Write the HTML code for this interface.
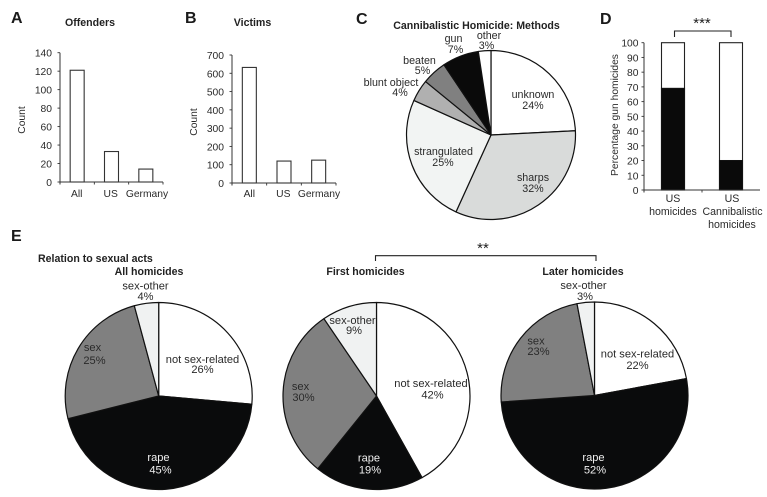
<!DOCTYPE html>
<html lang="en">
<head>
<meta charset="utf-8">
<title>Cannibalistic homicide charts</title>
<style>
html,body{margin:0;padding:0;background:#fff;width:767px;height:497px;overflow:hidden}
svg{display:block;font-family:"Liberation Sans",Arial,sans-serif;fill:#222;font-size:10.5px}
.t{font-size:10.3px;fill:#2a2a2a}
.c{font-size:10.7px;fill:#2a2a2a}
.d{font-size:10.6px;fill:#2a2a2a}
.e{font-size:11.1px;fill:#2a2a2a}
.b{font-weight:bold;font-size:10.6px;fill:#222}
.p{font-weight:bold;font-size:16px;fill:#1a1a1a}
.m{text-anchor:middle}
.w{fill:#f0f0f0}
</style>
</head>
<body>
<svg id="figure" width="767" height="497" viewBox="0 0 767 497" xmlns="http://www.w3.org/2000/svg">
  <g id="pies"></g>
  <g id="bars"></g>

  <text class="p" x="11" y="23">A</text>
  <text class="p" x="185" y="23">B</text>
  <text class="p" x="356" y="24">C</text>
  <text class="p" x="600" y="24">D</text>
  <text class="p" x="11" y="241">E</text>

  <text class="b m" x="90" y="26">Offenders</text>
  <text class="b m" x="252.500" y="26">Victims</text>
  <text class="t m" transform="translate(25,120) rotate(-90)">Count</text>
  <text class="t m" transform="translate(197,122) rotate(-90)">Count</text>

  <text class="b m" x="476.500" y="29">Cannibalistic Homicide: Methods</text>
  <text class="c m" x="533" y="98">unknown</text>
  <text class="c m" x="533" y="109">24%</text>
  <text class="c m" x="533" y="181">sharps</text>
  <text class="c m" x="533" y="192">32%</text>
  <text class="c m" x="443.500" y="155">strangulated</text>
  <text class="c m" x="443" y="166">25%</text>
  <text class="c m" x="391" y="86">blunt object</text>
  <text class="c m" x="400" y="96">4%</text>
  <text class="c m" x="419.500" y="64">beaten</text>
  <text class="c m" x="422.500" y="74">5%</text>
  <text class="c m" x="453.500" y="42">gun</text>
  <text class="c m" x="455.500" y="53">7%</text>
  <text class="c m" x="489" y="39">other</text>
  <text class="c m" x="486.500" y="49">3%</text>

  <text class="t m" transform="translate(618,115) rotate(-90)">Percentage gun homicides</text>
  <text class="d m" x="673" y="202">US</text>
  <text class="d m" x="673" y="215">homicides</text>
  <text class="d m" x="732" y="202">US</text>
  <text class="d m" x="732.500" y="215">Cannibalistic</text>
  <text class="d m" x="732" y="228">homicides</text>
  <text class="m" x="702" y="28" style="font-size:15px;fill:#222">***</text>
  <path d="M674.500 37V31H731V37" fill="none" stroke="#222" stroke-width="1.1"/>

  <text class="b" x="38" y="262">Relation to sexual acts</text>
  <text class="b m" x="149" y="275">All homicides</text>
  <text class="b m" x="365.500" y="275">First homicides</text>
  <text class="b m" x="583" y="275">Later homicides</text>
  <text class="m" x="483" y="253" style="font-size:15px;fill:#222">**</text>
  <path d="M375.500 261V255.700H596V261" fill="none" stroke="#222" stroke-width="1.1"/>

  <g id="pie-labels">
    <text class="e m" x="145.500" y="289.500">sex-other</text>
    <text class="e m" x="145.500" y="300">4%</text>
    <text class="e m" x="202.500" y="363">not  sex-related</text>
    <text class="e m" x="202.500" y="373">26%</text>
    <text class="e m" x="92.500" y="351">sex</text>
    <text class="e m" x="94.500" y="364">25%</text>
    <text class="e m w" x="158.500" y="461">rape</text>
    <text class="e m w" x="160.500" y="473.500">45%</text>

    <text class="e m" x="352.500" y="324">sex-other</text>
    <text class="e m" x="354" y="334">9%</text>
    <text class="e m" x="431" y="387">not sex-related</text>
    <text class="e m" x="432.500" y="398.500">42%</text>
    <text class="e m" x="300.500" y="390">sex</text>
    <text class="e m" x="303.500" y="401">30%</text>
    <text class="e m w" x="369" y="461.500">rape</text>
    <text class="e m w" x="370" y="473.500">19%</text>

    <text class="e m" x="583.500" y="289">sex-other</text>
    <text class="e m" x="585" y="300">3%</text>
    <text class="e m" x="637.500" y="357.500">not sex-related</text>
    <text class="e m" x="637.500" y="369">22%</text>
    <text class="e m" x="536" y="344.500">sex</text>
    <text class="e m" x="538.500" y="355">23%</text>
    <text class="e m w" x="593.500" y="461">rape</text>
    <text class="e m w" x="595" y="473.500">52%</text>
  </g>
</svg>
<script>
var barCategories = ['All', 'US', 'Germany'];
var offendersValues = [121, 33, 14];
var victimsValues = [632, 120, 125];
var offendersTicks = [0, 20, 40, 60, 80, 100, 120, 140];
var victimsTicks = [0, 100, 200, 300, 400, 500, 600, 700];
var gunTicks = [0, 10, 20, 30, 40, 50, 60, 70, 80, 90, 100];
var gunCategories = ['US homicides', 'US Cannibalistic homicides'];
var gunValues = [69, 20];
var methodNames = ['unknown', 'sharps', 'strangulated', 'blunt-object', 'beaten', 'gun', 'other'];
var methodValues = [24.2, 32.6, 24.9, 4.2, 4.7, 7.0, 2.4];
var sexNames = ['not-sex-related', 'rape', 'sex', 'sex-other'];
var allHomicideValues = [26.4, 44.7, 24.7, 4.2];
var firstHomicideValues = [41.9, 18.9, 29.7, 9.5];
var laterHomicideValues = [22.1, 51.8, 23.1, 3.0];

var NS = 'http://www.w3.org/2000/svg';
var barsLayer = document.getElementById('bars');
var piesLayer = document.getElementById('pies');

function make(parent, tag, name) {
  var el = document.createElementNS(NS, tag);
  
  
  parent.appendChild(el);
  return el;
}
function line(parent, name, x1, y1, x2, y2, color, width) {
  var l = make(parent, 'line', name);
  l.setAttribute('x1', x1); l.setAttribute('y1', y1);
  l.setAttribute('x2', x2); l.setAttribute('y2', y2);
  l.setAttribute('stroke', color); l.setAttribute('stroke-width', width);
  return l;
}
function rect(parent, name, x, y, w, h, fill, stroke) {
  var r = make(parent, 'rect', name);
  r.setAttribute('x', x); r.setAttribute('y', y);
  r.setAttribute('width', w); r.setAttribute('height', h);
  r.setAttribute('fill', fill); r.setAttribute('stroke', stroke);
  r.setAttribute('stroke-width', '1.1');
  return r;
}
function label(parent, name, x, y, anchor, str) {
  var t = make(parent, 'text', name);
  t.setAttribute('class', 't');
  t.setAttribute('x', x); t.setAttribute('y', y);
  t.setAttribute('text-anchor', anchor);
  t.textContent = str;
  return t;
}

function countChart(prefix, values, ticks, ax) {
  var g = make(barsLayer, 'g', prefix + '-bar-chart');
  var maxTick = ticks[ticks.length - 1];
  function yScale(v) { return ax.y0 - v / maxTick * (ax.y0 - ax.yTop); }
  var band = (ax.xEnd - ax.x0) / values.length;
  ticks.forEach(function (v) {
    var y = yScale(v);
    line(g, prefix + '-y-tick', ax.x0 - 2.5, y, ax.x0, y, '#333', 0.9);
    label(g, prefix + '-y-tick-label', ax.labelX, y + 4, 'end', String(v));
  });
  values.forEach(function (v, i) {
    var cx = ax.x0 + band * (i + 0.5);
    rect(g, prefix + '-bar-' + barCategories[i].toLowerCase(), cx - 7, yScale(v), 14, ax.y0 - yScale(v), '#fff', '#333');
    label(g, prefix + '-x-label', ax.labelCenters[i], 197, 'middle', barCategories[i]);
    line(g, prefix + '-x-tick', ax.x0 + band * (i + 1), ax.y0, ax.x0 + band * (i + 1), ax.y0 + 2.5, '#333', 0.9);
  });
  line(g, prefix + '-y-axis', ax.x0, ax.yTop, ax.x0, ax.y0 + 2.5, '#333', 1);
  line(g, prefix + '-x-axis', ax.x0, ax.y0, ax.xEnd, ax.y0, '#333', 1);
}
countChart('offenders', offendersValues, offendersTicks, {x0: 60, xEnd: 163, y0: 182, yTop: 52.7, labelX: 52, labelCenters: [76.7, 110.7, 147]});
countChart('victims', victimsValues, victimsTicks, {x0: 232, xEnd: 336, y0: 183, yTop: 55, labelX: 224, labelCenters: [249.3, 283.3, 319]});

(function gunChart() {
  var g = make(barsLayer, 'g', 'gun-bar-chart');
  var x0 = 644, xEnd = 760, y0 = 190, yTop = 42.7;
  function yScale(v) { return y0 - v / 100 * (y0 - yTop); }
  var centers = [x0 + (xEnd - x0) * 0.25, x0 + (xEnd - x0) * 0.75];
  gunTicks.forEach(function (v) {
    var y = yScale(v);
    line(g, 'gun-y-tick', x0 - 2.5, y, x0, y, '#333', 0.9);
    label(g, 'gun-y-tick-label', 638.5, y + 4, 'end', String(v));
  });
  gunValues.forEach(function (v, i) {
    var x = centers[i] - 11.5;
    rect(g, 'gun-bar-total-' + (i + 1), x, yTop, 23, y0 - yTop, '#fff', '#222');
    rect(g, 'gun-bar-gun-share-' + (i + 1), x, yScale(v), 23, y0 - yScale(v), '#0a0a0a', '#111');
  });
  line(g, 'gun-y-axis', x0, yTop, x0, y0 + 2.5, '#333', 1);
  line(g, 'gun-x-axis', x0, y0, xEnd, y0, '#333', 1);
  line(g, 'gun-x-tick', (x0 + xEnd) / 2, y0, (x0 + xEnd) / 2, y0 + 2.5, '#333', 0.9);
})();

function pie(prefix, names, values, colors, cx, cy, r, sw) {
  var g = make(piesLayer, 'g', prefix + '-pie');
  var total = values.reduce(function (a, b) { return a + b; }, 0);
  var start = 0;
  values.forEach(function (v, i) {
    var end = start + v / total * 2 * Math.PI;
    var x1 = cx + r * Math.sin(start), y1 = cy - r * Math.cos(start);
    var x2 = cx + r * Math.sin(end), y2 = cy - r * Math.cos(end);
    var large = end - start > Math.PI ? 1 : 0;
    var p = make(g, 'path', prefix + '-slice-' + names[i]);
    p.setAttribute('d', 'M' + cx + ' ' + cy + 'L' + x1.toFixed(2) + ' ' + y1.toFixed(2) +
      'A' + r + ' ' + r + ' 0 ' + large + ' 1 ' + x2.toFixed(2) + ' ' + y2.toFixed(2) + 'Z');
    p.setAttribute('fill', colors[i]);
    p.setAttribute('stroke', '#111');
    p.setAttribute('stroke-width', sw);
    p.setAttribute('stroke-linejoin', 'round');
    start = end;
  });
}
var sexColors = ['#ffffff', '#0a0b0c', '#808080', '#f0f2f2'];
pie('methods', methodNames, methodValues, ['#ffffff', '#d9dbda', '#f2f4f3', '#b0b0b0', '#808080', '#0a0a0a', '#ffffff'], 491, 135, 84.5, 1.2);
pie('all-homicides', sexNames, allHomicideValues, sexColors, 158.7, 396, 93.5, 1.2);
pie('first-homicides', sexNames, firstHomicideValues, sexColors, 376.5, 396, 93.5, 1.2);
pie('later-homicides', sexNames, laterHomicideValues, sexColors, 594.5, 395.500, 93.5, 1.2);
</script>
</body>
</html>
